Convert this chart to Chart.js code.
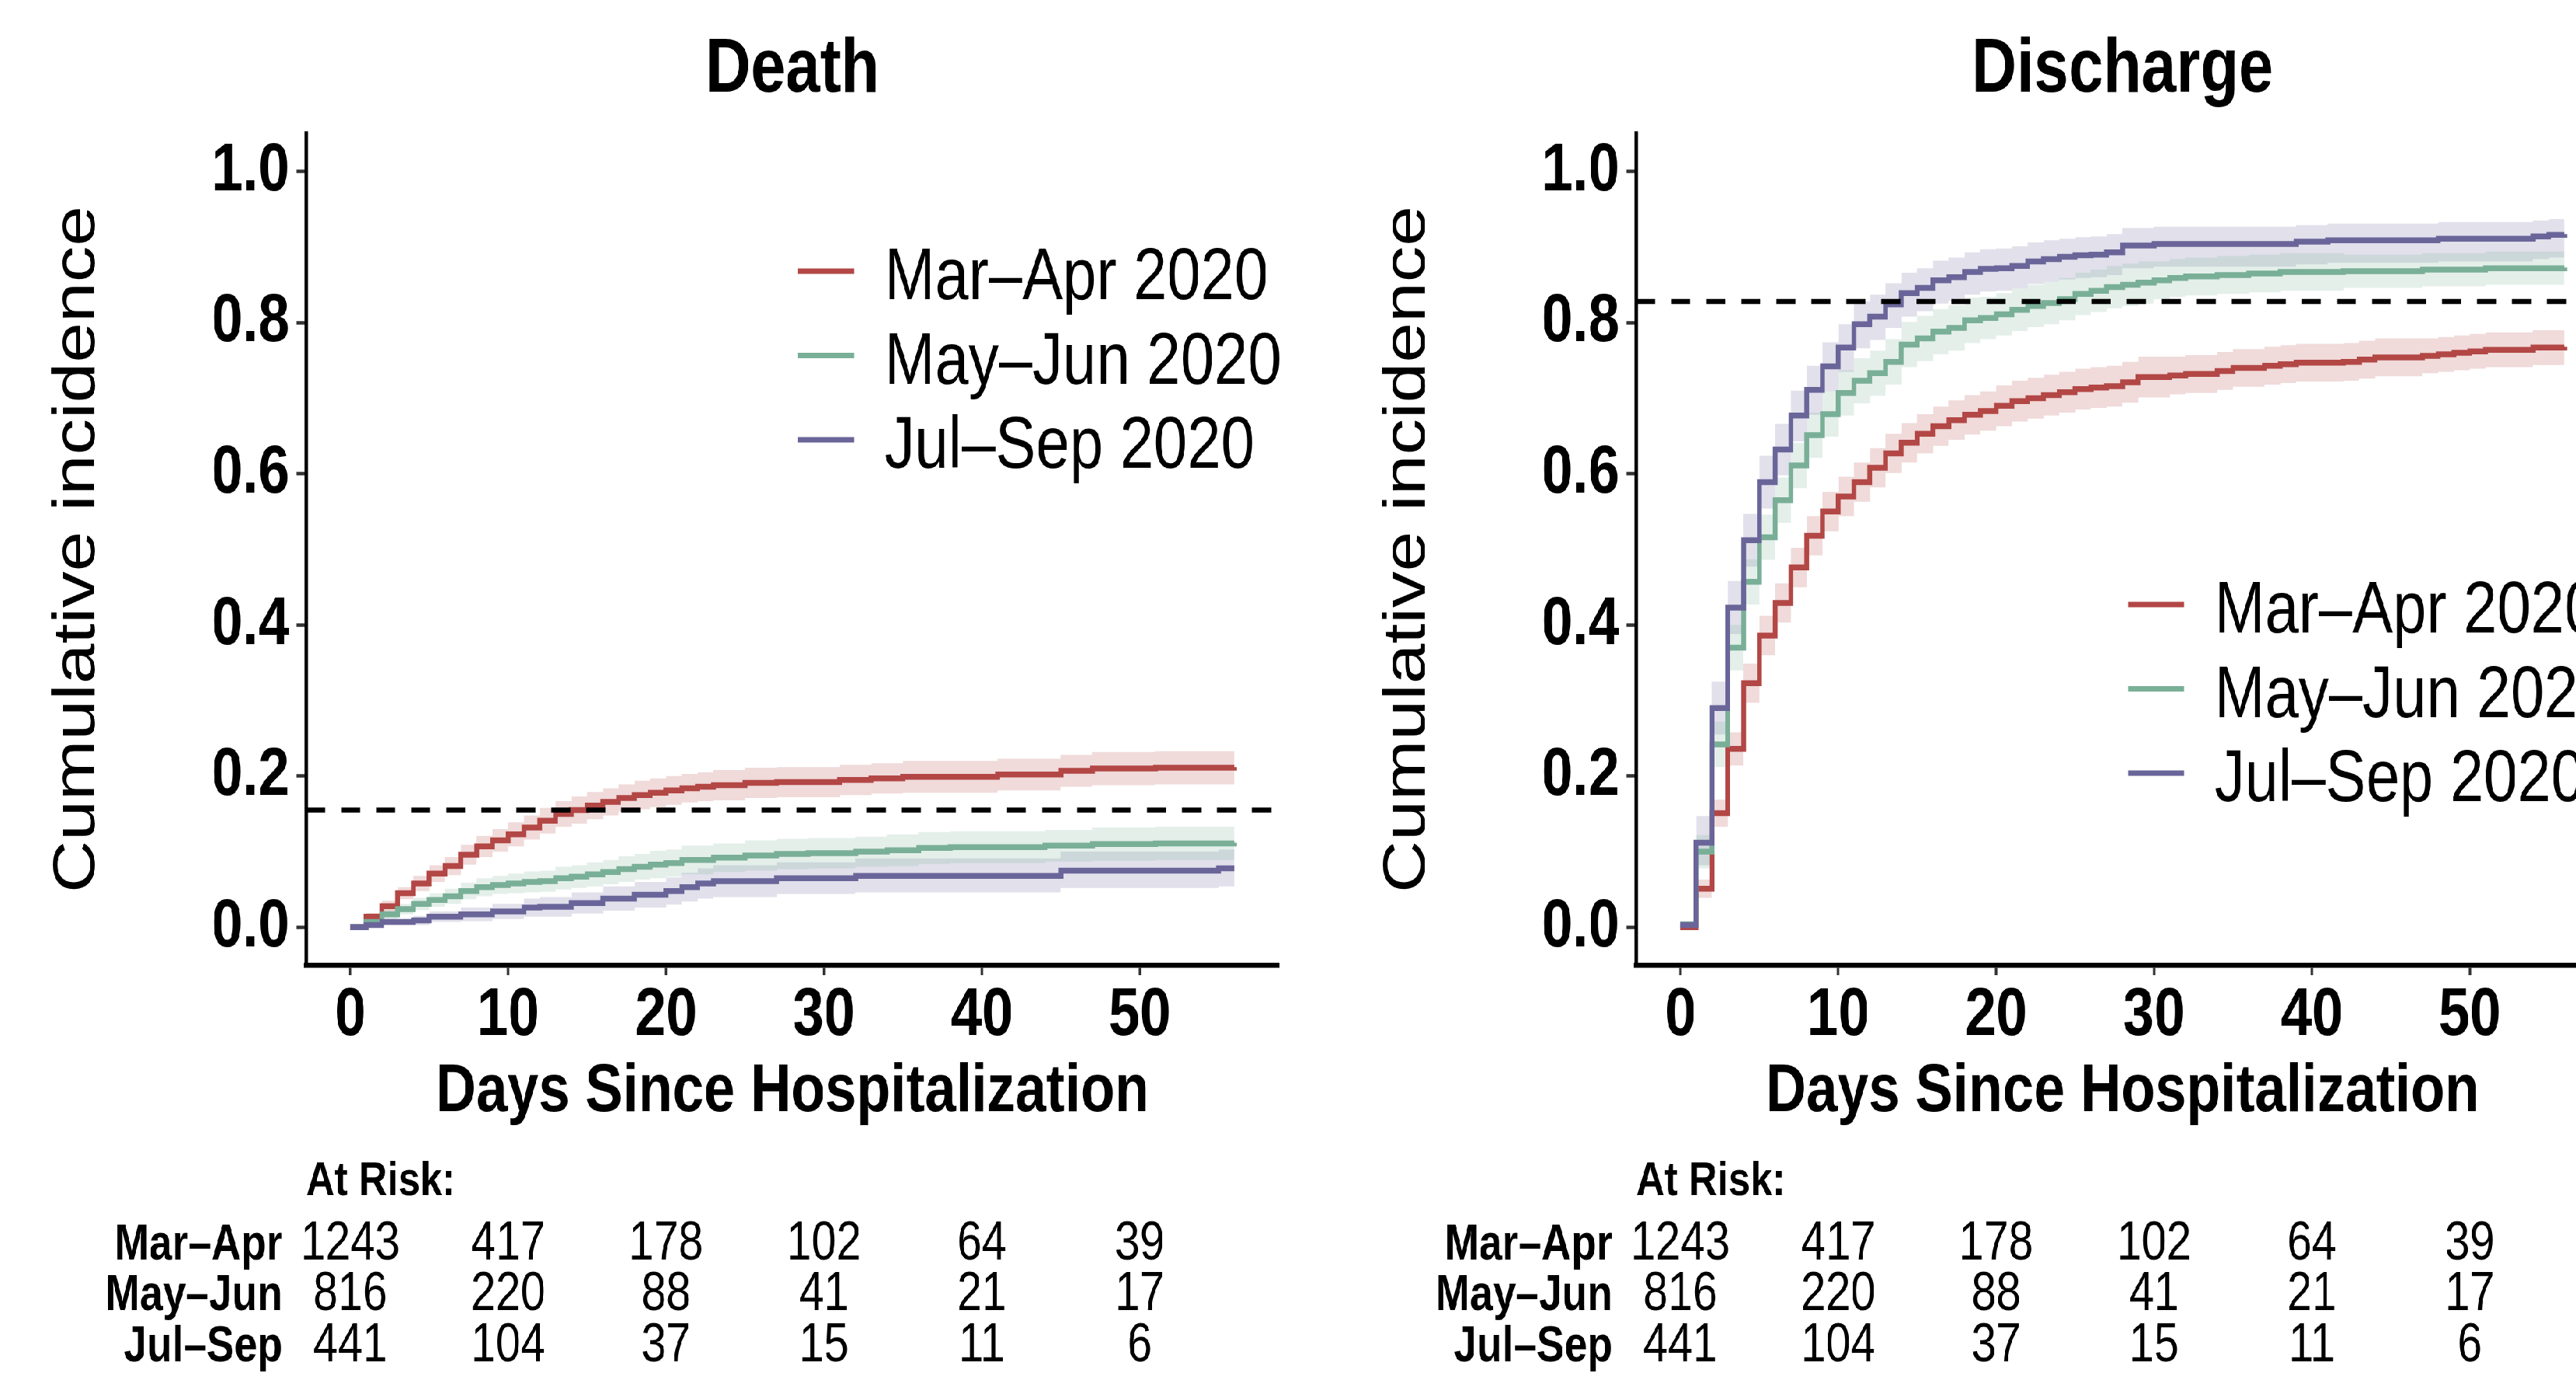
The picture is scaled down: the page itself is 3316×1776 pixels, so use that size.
<!DOCTYPE html>
<html><head><meta charset="utf-8">
<script src="https://cdn.jsdelivr.net/npm/chart.js@4.4.1/dist/chart.umd.min.js"></script>
<style>
html,body{margin:0;padding:0;background:#fff;overflow:hidden;width:3316px;height:1776px;}
#wrap{position:absolute;left:0;top:0;width:4176px;height:1776px;transform:scaleX(0.82);transform-origin:0 0;display:flex;}
.panel{position:relative;width:2088px;height:1776px;flex:none;}
</style></head><body>
<div id="wrap"><div class="panel"><canvas id="c1"></canvas></div><div class="panel"><canvas id="c2"></canvas></div></div>
<script>
const FONT = '"Liberation Sans", Arial, Helvetica, sans-serif';
const seriesNames = ['Mar–Apr 2020','May–Jun 2020','Jul–Sep 2020'];
const seriesColors = ['#B24745','#79AF97','#6A6599'];
const bandColors = ['rgba(178,71,69,0.2)','rgba(121,175,151,0.2)','rgba(106,101,153,0.2)'];
const xTicks = [0,10,20,30,40,50];
const yTicks = [0,0.2,0.4,0.6,0.8,1.0];
const xMin = -2.8, xMax = 58.8, yMin = -0.05, yMax = 1.05;
const panelTitles = ['Death','Discharge'];
const refLevels = [0.155, 0.828];

// ---- Death ----
const deathMarAprDays = [0,1,2,3,4,5,6,7,8,9,10,11,12,13,14,15,16,17,18,19,20,21,22,23,25,27,31,33,35,41,45,47,51,56];
const deathMarAprVals = [0,0.014,0.028,0.045,0.058,0.071,0.081,0.096,0.107,0.115,0.123,0.132,0.141,0.150,0.155,0.161,0.166,0.171,0.175,0.178,0.181,0.184,0.186,0.188,0.191,0.192,0.195,0.197,0.199,0.202,0.207,0.210,0.211,0.212];
const deathMarAprLow  = [0,0.009,0.021,0.037,0.048,0.060,0.069,0.083,0.093,0.100,0.107,0.116,0.124,0.133,0.137,0.143,0.148,0.153,0.156,0.159,0.162,0.165,0.167,0.168,0.171,0.172,0.175,0.177,0.178,0.181,0.186,0.188,0.189,0.190];
const deathMarAprHigh = [0,0.019,0.035,0.053,0.068,0.082,0.093,0.109,0.121,0.130,0.139,0.148,0.158,0.167,0.173,0.179,0.184,0.189,0.194,0.197,0.200,0.203,0.205,0.208,0.211,0.212,0.215,0.217,0.220,0.223,0.228,0.232,0.233,0.234];

const deathMayJunDays = [0,1,2,3,4,5,6,7,8,9,10,11,12,13,14,15,16,17,18,19,20,21,23,25,27,29,32,34,36,38,44,47,51,56];
const deathMayJunVals = [0,0.007,0.017,0.024,0.031,0.036,0.041,0.048,0.053,0.056,0.058,0.060,0.061,0.065,0.067,0.070,0.073,0.077,0.080,0.083,0.085,0.089,0.092,0.095,0.097,0.098,0.100,0.102,0.105,0.106,0.108,0.110,0.111,0.112];
const deathMayJunLow  = [0,0.003,0.011,0.017,0.023,0.027,0.031,0.037,0.041,0.044,0.045,0.046,0.047,0.050,0.052,0.054,0.057,0.060,0.063,0.065,0.067,0.070,0.073,0.075,0.077,0.078,0.080,0.081,0.084,0.085,0.087,0.088,0.089,0.090];
const deathMayJunHigh = [0,0.011,0.023,0.031,0.039,0.045,0.051,0.059,0.065,0.068,0.071,0.074,0.075,0.080,0.082,0.086,0.089,0.094,0.097,0.101,0.103,0.108,0.111,0.115,0.117,0.118,0.120,0.123,0.126,0.127,0.129,0.132,0.133,0.134];

const deathJulSepDays = [0,1,2,4,5,7,9,11,12,14,16,18,20,21,22,23,27,32,45,55,56];
const deathJulSepVals = [0,0.003,0.007,0.009,0.014,0.017,0.021,0.026,0.027,0.032,0.038,0.043,0.048,0.053,0.058,0.061,0.065,0.068,0.075,0.078,0.078];
const deathJulSepLow  = [0,0.000,0.003,0.003,0.007,0.008,0.011,0.014,0.014,0.018,0.022,0.026,0.030,0.034,0.038,0.040,0.044,0.046,0.052,0.054,0.054];
const deathJulSepHigh = [0,0.006,0.011,0.015,0.021,0.026,0.031,0.038,0.040,0.046,0.054,0.060,0.066,0.072,0.078,0.082,0.086,0.091,0.100,0.103,0.103];

// ---- Discharge ----
const dischMarAprDays = [0,1,2,3,4,5,6,7,8,9,10,11,12,13,14,15,16,17,18,19,20,21,22,23,24,25,26,27,28,29,31,32,34,35,37,38,39,42,43,44,47,48,49,50,51,54,56];
const dischMarAprVals = [0,0.051,0.151,0.236,0.323,0.386,0.429,0.476,0.518,0.550,0.570,0.589,0.608,0.627,0.641,0.653,0.663,0.671,0.678,0.683,0.690,0.696,0.700,0.704,0.708,0.712,0.714,0.716,0.721,0.728,0.730,0.732,0.736,0.740,0.743,0.745,0.747,0.748,0.751,0.754,0.756,0.758,0.760,0.762,0.764,0.767,0.768];
const dischMarAprLow  = [0,0.039,0.133,0.214,0.297,0.360,0.403,0.450,0.492,0.524,0.544,0.563,0.582,0.601,0.615,0.627,0.637,0.645,0.652,0.657,0.663,0.669,0.673,0.677,0.681,0.685,0.687,0.689,0.694,0.701,0.705,0.707,0.711,0.715,0.718,0.720,0.722,0.723,0.726,0.729,0.733,0.735,0.737,0.739,0.741,0.744,0.745];
const dischMarAprHigh = [0,0.063,0.169,0.258,0.349,0.412,0.455,0.502,0.544,0.576,0.596,0.615,0.634,0.653,0.667,0.679,0.689,0.697,0.704,0.709,0.717,0.723,0.727,0.731,0.735,0.739,0.741,0.743,0.748,0.755,0.755,0.757,0.761,0.765,0.768,0.770,0.772,0.773,0.776,0.779,0.779,0.781,0.783,0.785,0.787,0.790,0.791];

const dischMayJunDays = [0,1,2,3,4,5,6,7,8,9,10,11,12,13,14,15,16,17,18,19,20,21,22,23,24,25,26,27,28,29,30,31,32,34,36,38,42,47,51,56];
const dischMayJunVals = [0.004,0.100,0.242,0.370,0.457,0.516,0.565,0.611,0.651,0.679,0.707,0.723,0.733,0.748,0.771,0.779,0.788,0.793,0.803,0.806,0.811,0.817,0.822,0.826,0.831,0.838,0.842,0.847,0.850,0.853,0.856,0.859,0.861,0.863,0.865,0.867,0.868,0.870,0.872,0.873];
const dischMayJunLow  = [0.004,0.078,0.212,0.340,0.427,0.486,0.535,0.581,0.621,0.649,0.677,0.693,0.703,0.718,0.741,0.749,0.758,0.763,0.773,0.778,0.783,0.789,0.794,0.798,0.803,0.810,0.814,0.819,0.822,0.825,0.831,0.834,0.836,0.838,0.840,0.842,0.846,0.848,0.850,0.851];
const dischMayJunHigh = [0.004,0.122,0.272,0.400,0.487,0.546,0.595,0.641,0.681,0.709,0.737,0.753,0.763,0.778,0.801,0.809,0.818,0.823,0.833,0.834,0.839,0.845,0.850,0.854,0.859,0.866,0.870,0.875,0.878,0.881,0.881,0.884,0.886,0.888,0.890,0.892,0.890,0.892,0.894,0.895];

const dischJulSepDays = [0,1,2,3,4,5,6,7,8,9,10,11,12,13,14,15,16,17,18,19,20,21,22,23,24,25,26,27,28,30,39,41,48,54,55,56];
const dischJulSepVals = [0.003,0.112,0.290,0.423,0.512,0.589,0.632,0.677,0.711,0.742,0.767,0.798,0.808,0.824,0.839,0.846,0.856,0.860,0.867,0.871,0.872,0.875,0.881,0.884,0.887,0.889,0.890,0.893,0.902,0.904,0.907,0.909,0.911,0.914,0.916,0.917];
const dischJulSepLow  = [0.003,0.082,0.255,0.388,0.477,0.554,0.598,0.643,0.678,0.709,0.735,0.766,0.777,0.793,0.808,0.815,0.825,0.829,0.837,0.841,0.842,0.845,0.851,0.854,0.857,0.859,0.860,0.863,0.872,0.874,0.877,0.879,0.881,0.884,0.886,0.887];
const dischJulSepHigh = [0.003,0.147,0.325,0.458,0.547,0.624,0.666,0.710,0.743,0.774,0.798,0.828,0.837,0.852,0.866,0.872,0.882,0.886,0.893,0.897,0.898,0.901,0.906,0.909,0.911,0.913,0.914,0.917,0.925,0.927,0.929,0.931,0.933,0.935,0.937,0.938];

// ---- At risk table ----
const riskGroups = ['Mar–Apr','May–Jun','Jul–Sep'];
const riskTimes = [0,10,20,30,40,50];
const riskMarApr = [1243,417,178,102,64,39];
const riskMayJun = [816,220,88,41,21,17];
const riskJulSep = [441,104,37,15,11,6];

Chart.defaults.font.family = FONT;

const annotPlugin = {
  id: 'annot',
  afterDraw(chart, args, opts) {
    const {ctx, chartArea: a, scales: {x}} = chart;
    ctx.save();
    ctx.fillStyle = '#000';
    ctx.font = 'bold 98px ' + FONT;
    ctx.textAlign = 'center';
    ctx.textBaseline = 'alphabetic';
    ctx.fillText(opts.title, (a.left + a.right) / 2, 118);
    seriesNames.forEach((name, i) => {
      const y = opts.legendY + i * 108.5;
      ctx.strokeStyle = seriesColors[i];
      ctx.lineWidth = 7;
      ctx.beginPath();
      ctx.moveTo(a.left + 772, y);
      ctx.lineTo(a.left + 860, y);
      ctx.stroke();
      ctx.fillStyle = '#000';
      ctx.font = '95px ' + FONT;
      ctx.textAlign = 'left';
      ctx.fillText(name, a.left + 908, y + 36);
    });
    ctx.font = 'bold 62px ' + FONT;
    ctx.textAlign = 'left';
    ctx.fillText('At Risk:', a.left, 1538);
    const rows = [riskMarApr, riskMayJun, riskJulSep];
    const rowY = [1621, 1686, 1752];
    rows.forEach((row, r) => {
      ctx.font = 'bold 65px ' + FONT;
      ctx.textAlign = 'right';
      ctx.fillText(riskGroups[r], a.left - 37, rowY[r]);
      ctx.font = '70px ' + FONT;
      ctx.textAlign = 'center';
      row.forEach((n, j) => ctx.fillText(String(n), x.getPixelForValue(riskTimes[j]), rowY[r]));
    });
    ctx.restore();
  }
};

function buildDatasets(series, ref) {
  const ds = [];
  const pts = (days, arr) => days.map((d, j) => ({x: d, y: arr[j]}));
  series.forEach((s, i) => {
    ds.push({label: seriesNames[i] + ' lower', data: pts(s.days, s.low), borderColor: 'rgba(0,0,0,0)', borderWidth: 1, pointRadius: 0, stepped: true, fill: false, order: 3});
    ds.push({label: seriesNames[i] + ' upper', data: pts(s.days, s.high), borderColor: 'rgba(0,0,0,0)', borderWidth: 1, pointRadius: 0, stepped: true, fill: '-1', backgroundColor: bandColors[i], order: 3});
  });
  series.forEach((s, i) => {
    ds.push({label: seriesNames[i], data: pts(s.days, s.vals), borderColor: seriesColors[i], borderWidth: 7.5, pointRadius: 0, stepped: true, fill: false, order: 2 - i * 0.1});
  });
  ds.push({label: 'reference', data: [{x: xMin, y: ref}, {x: xMax, y: ref}], borderColor: '#000', borderWidth: 6.5, borderDash: [30, 25], pointRadius: 0, fill: false, order: 0});
  return ds;
}

function makeChart(id, title, series, ref, legendY) {
  return new Chart(document.getElementById(id), {
    type: 'line',
    data: {datasets: buildDatasets(series, ref)},
    plugins: [annotPlugin],
    options: {
      responsive: true, maintainAspectRatio: false, animation: false,
      layout: {padding: {left: 0, right: 80.7, top: 172, bottom: 0}},
      plugins: {legend: {display: false}, tooltip: {enabled: false}, title: {display: false},
        annot: {title, legendY}},
      scales: {
        x: {
          type: 'linear', min: xMin, max: xMax,
          afterBuildTicks: s => { s.ticks = xTicks.map(v => ({value: v})); },
          afterFit: s => { s.height = 534; },
          grid: {display: true, drawOnChartArea: false, drawTicks: true, tickLength: 13, tickWidth: 4, tickColor: '#333', color: '#333'},
          border: {display: true, color: '#000', width: 6.5},
          ticks: {color: '#000', font: {size: 88, weight: 'bold', lineHeight: 1}, padding: 9, maxRotation: 0, autoSkip: false, callback: v => String(v)},
          title: {display: true, text: 'Days Since Hospitalization', color: '#000', font: {size: 88, weight: 'bold'}, padding: {top: 0, bottom: 317}}
        },
        y: {
          type: 'linear', min: yMin, max: yMax,
          afterBuildTicks: s => { s.ticks = yTicks.map(v => ({value: v})); },
          afterFit: s => { s.width = 480.5; },
          grid: {display: true, drawOnChartArea: false, drawTicks: true, tickLength: 15, tickWidth: 4.5, tickColor: '#333', color: '#333'},
          border: {display: true, color: '#000', width: 5.5},
          ticks: {color: '#000', font: {size: 88, weight: 'bold', lineHeight: 1}, padding: 11, autoSkip: false, callback: v => Number(v).toFixed(1)},
          title: {display: true, text: 'Cumulative incidence', color: '#000', font: {size: 93, weight: 'normal'}, padding: {top: 67, bottom: 0}}
        }
      }
    }
  });
}

makeChart('c1', panelTitles[0], [
  {days: deathMarAprDays, vals: deathMarAprVals, low: deathMarAprLow, high: deathMarAprHigh},
  {days: deathMayJunDays, vals: deathMayJunVals, low: deathMayJunLow, high: deathMayJunHigh},
  {days: deathJulSepDays, vals: deathJulSepVals, low: deathJulSepLow, high: deathJulSepHigh}
], refLevels[0], 349);

makeChart('c2', panelTitles[1], [
  {days: dischMarAprDays, vals: dischMarAprVals, low: dischMarAprLow, high: dischMarAprHigh},
  {days: dischMayJunDays, vals: dischMayJunVals, low: dischMayJunLow, high: dischMayJunHigh},
  {days: dischJulSepDays, vals: dischJulSepVals, low: dischJulSepLow, high: dischJulSepHigh}
], refLevels[1], 778);
</script>
</body></html>
